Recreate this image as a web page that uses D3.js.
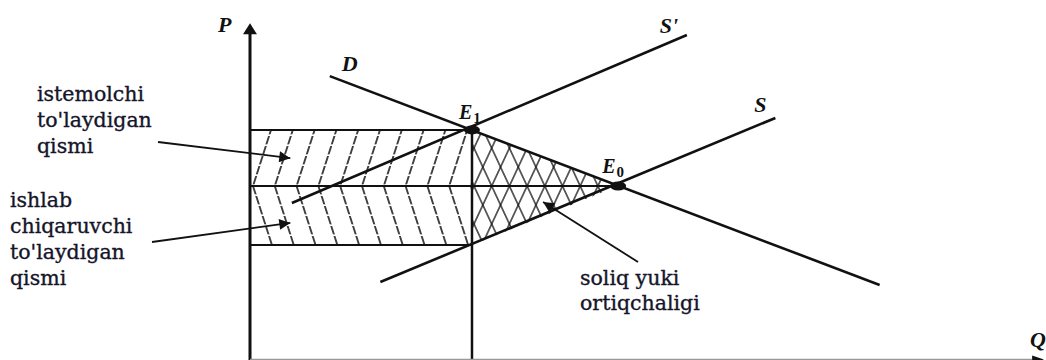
<!DOCTYPE html>
<html>
<head>
<meta charset="utf-8">
<script src="https://cdn.jsdelivr.net/npm/d3@7"></script>
<style>
  html,body{margin:0;padding:0;background:#fff;}
  svg{display:block;}
</style>
</head>
<body>
<svg id="chart" width="1046" height="360"></svg>
<script>
// ---- data (arbitrary units 0..100) ----
const axisNames = ["P", "Q"];
const curveNames = ["D", "S'", "S"];
const demandLine = [[10.1, 85.2], [79.7, 22.3]];
const taxSupplyLine = [[5.3, 47.0], [55.3, 97.6]];
const supplyLine = [[16.5, 23.2], [66.5, 72.6]];
const equilibriumNames = ["E1", "E0"];
const equilibriumQ = [28.1, 46.6];
const equilibriumP = [69.0, 52.1];
const producerPrice = [34.3];
const consumerLabel = ["istemolchi", "to'laydigan", "qismi"];
const producerLabel = ["ishlab", "chiqaruvchi", "to'laydigan", "qismi"];
const deadweightLabel = ["soliq yuki", "ortiqchaligi"];

// ---- setup ----
const W = 1046, H = 360;
const svg = d3.select("#chart");
const x = d3.scaleLinear().domain([0, 100]).range([250, 1040]);
const y = d3.scaleLinear().domain([0, 100]).range([359, 27]);

const Q1 = equilibriumQ[0], Q0 = equilibriumQ[1];
const Pc = equilibriumP[0], Pe = equilibriumP[1], Ps = producerPrice[0];

const defs = svg.append("defs");
// hatch patterns
function hatch(id, w, h, dash, angle, ox, oy, sw) {
  const p = defs.append("pattern").attr("id", id)
    .attr("patternUnits", "userSpaceOnUse")
    .attr("width", w).attr("height", h)
    .attr("patternTransform", `translate(${ox},${oy}) skewX(${angle})`);
  p.append("line").attr("x1", w / 2).attr("x2", w / 2)
    .attr("y1", 0).attr("y2", dash)
    .attr("stroke", "#111").attr("stroke-width", sw);
}
const hw = 21.8;
const apexX = x(0) + 3 - hw / 2;
hatch("hUp", hw, 10, 8.5, -17.8, apexX, y(Pe), 1.6);
hatch("hDown", hw, 10, 8.5, 17.8, apexX, y(Pe), 1.6);
hatch("xA", 17.7, 10, 10, 25, x(Q1) + 2 - 8.85, y(Pe), 1.4);
hatch("xB", 17.7, 10, 10, -25, x(Q1) + 2 - 8.85, y(Pe), 1.4);

// arrow marker
defs.append("marker").attr("id", "arr")
  .attr("viewBox", "0 0 10 10").attr("refX", 10).attr("refY", 5)
  .attr("markerUnits", "userSpaceOnUse")
  .attr("markerWidth", 16).attr("markerHeight", 11)
  .attr("orient", "auto")
  .append("path").attr("d", "M0,0 L10,5 L0,10 Z").attr("fill", "#111");

// ---- hatched areas ----
svg.append("rect").attr("x", x(0)).attr("y", y(Pc))
  .attr("width", x(Q1) - x(0)).attr("height", y(Pe) - y(Pc))
  .attr("fill", "url(#hUp)");
svg.append("rect").attr("x", x(0)).attr("y", y(Pe))
  .attr("width", x(Q1) - x(0)).attr("height", y(Ps) - y(Pe))
  .attr("fill", "url(#hDown)");
const tri = [[Q1, Pc], [Q0, Pe], [Q1, Ps]];
const triPath = "M" + tri.map(d => [x(d[0]), y(d[1])].join(",")).join("L") + "Z";
svg.append("path").attr("d", triPath).attr("fill", "url(#xA)");
svg.append("path").attr("d", triPath).attr("fill", "url(#xB)");

// ---- price lines ----
const hl = [[Pc, Q1, 2], [Pe, Q0, 2], [Ps, Q1, 2]];
svg.selectAll("line.h").data(hl).join("line").attr("class", "h")
  .attr("x1", x(0)).attr("x2", d => x(d[1]))
  .attr("y1", d => y(d[0])).attr("y2", d => y(d[0]))
  .attr("stroke", "#111").attr("stroke-width", d => d[2]);

// vertical at Q1
svg.append("line").attr("x1", x(Q1)).attr("x2", x(Q1))
  .attr("y1", y(Pc)).attr("y2", H)
  .attr("stroke", "#111").attr("stroke-width", 2.5);

// ---- curves ----
const line = d3.line().x(d => x(d[0])).y(d => y(d[1]));
[demandLine, taxSupplyLine, supplyLine].forEach(pts => {
  svg.append("path").attr("d", line(pts)).attr("fill", "none")
    .attr("stroke", "#111").attr("stroke-width", 2.6);
});

// ---- axes ----
svg.append("line").attr("x1", x(0)).attr("x2", x(0))
  .attr("y1", H).attr("y2", y(100))
  .attr("stroke", "#111").attr("stroke-width", 3);
svg.append("path")
  .attr("d", `M${x(0)},${y(101.1)} L${x(0) - 7},${y(101.1) + 11} L${x(0) + 7},${y(101.1) + 11} Z`)
  .attr("fill", "#111");
svg.append("line").attr("x1", x(0)).attr("x2", x(99))
  .attr("y1", y(0) + 0.5).attr("y2", y(0) + 0.5)
  .attr("stroke", "#999").attr("stroke-width", 1.5);
svg.append("path")
  .attr("d", `M${x(100.5)},${y(0) + 0.5} L${x(99)},${y(0) - 3.5} L${x(99)},${y(0) + 4.5} Z`)
  .attr("fill", "#111");

// ---- equilibrium dots ----
svg.selectAll("ellipse.eq").data(equilibriumQ).join("ellipse").attr("class", "eq")
  .attr("cx", d => x(d)).attr("cy", (d, i) => y(equilibriumP[i]))
  .attr("rx", 8).attr("ry", 4.5).attr("fill", "#111");

// ---- letter labels ----
const bi = "'Liberation Serif', 'Times New Roman', serif";
function letter(txt, px, py, size) {
  return svg.append("text").attr("x", px).attr("y", py)
    .attr("font-family", bi).attr("font-weight", "bold").attr("font-style", "italic")
    .attr("font-size", size).attr("fill", "#111").text(txt);
}
letter(axisNames[0], x(0) - 32, 32, 22);
letter(axisNames[1], 1030, 347, 22);
letter(curveNames[0], x(demandLine[0][0]) + 12, 71, 22);
letter(curveNames[1], x(taxSupplyLine[1][0]) - 27, 33, 22);
letter(curveNames[2], x(supplyLine[1][0]) - 21, 112, 22);

function eLabel(name, px, py) {
  const t = svg.append("text").attr("x", px).attr("y", py)
    .attr("font-family", bi).attr("font-weight", "bold").attr("font-style", "italic")
    .attr("font-size", 20).attr("fill", "#111");
  t.append("tspan").text(name[0]);
  t.append("tspan").attr("dy", 4).attr("dx", 1).attr("font-size", 15).attr("font-style", "normal").text(name.slice(1));
}
eLabel(equilibriumNames[0], x(Q1) - 13, y(Pc) - 11);
eLabel(equilibriumNames[1], x(Q0) - 16, y(Pe) - 13);

// ---- text annotations ----
const tf = "'DejaVu Serif', serif";
function block(lines, px, py, lh) {
  const t = svg.append("text").attr("font-family", tf).attr("font-size", 20.5)
    .attr("fill", "#15152a").attr("stroke", "#15152a").attr("stroke-width", 0.35);
  lines.forEach((s, i) => t.append("tspan").attr("x", px).attr("y", py + i * lh).text(s));
}
block(consumerLabel, 37, 101, 26);
block(producerLabel, 10, 207, 26);
block(deadweightLabel, 580, 285, 25);

// ---- leader arrows ----
const leaders = [
  [[158, 142], [x(5.1), y(60.5)]],
  [[152, 242], [x(5.1), y(41)]],
  [[638, 262], [x(37.1), y(47.3)]]
];
svg.selectAll("line.lead").data(leaders).join("line").attr("class", "lead")
  .attr("x1", d => d[0][0]).attr("y1", d => d[0][1])
  .attr("x2", d => d[1][0]).attr("y2", d => d[1][1])
  .attr("stroke", "#111").attr("stroke-width", 1.8)
  .attr("marker-end", "url(#arr)");
</script>
</body>
</html>
